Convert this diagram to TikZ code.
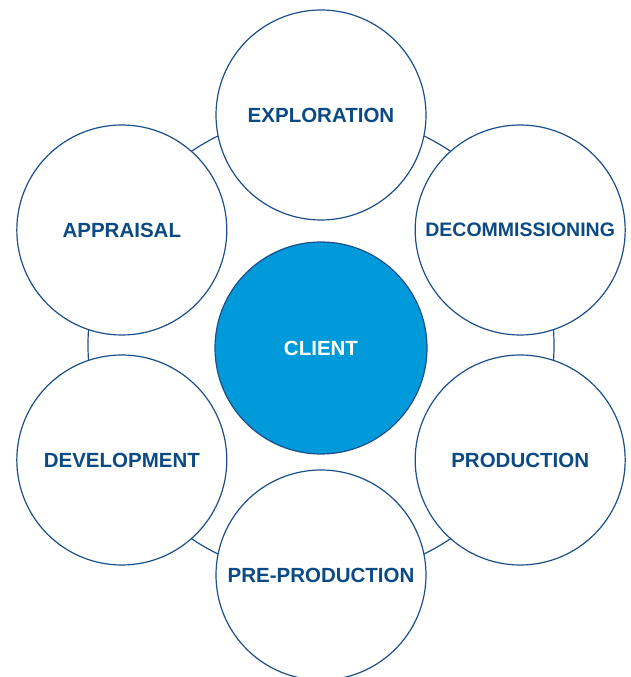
\documentclass[tikz,border=0pt]{standalone}
\usepackage{fontspec}
\setmainfont{Liberation Sans}
\usetikzlibrary{calc}
\definecolor{linecol}{HTML}{1B4F8A}
\definecolor{textcol}{HTML}{0C4A85}
\definecolor{clientfill}{HTML}{0099D9}
\begin{document}
\begin{tikzpicture}[x=1pt,y=1pt,
  ringstyle/.style={circle,draw=linecol,line width=1.2pt,minimum size=466pt,inner sep=0pt},
  stage/.style={circle,draw=linecol,fill=white,line width=1.2pt,minimum size=210pt,inner sep=0pt,
    text=textcol,font=\fontsize{20.5}{24}\selectfont\bfseries},
  clientstyle/.style={circle,draw=linecol,fill=clientfill,line width=1.2pt,minimum size=212pt,inner sep=0pt,
    text=white,font=\fontsize{20.5}{24}\selectfont\bfseries}]
\useasboundingbox (0,0) rectangle (630,677);
\clip (0,0) rectangle (630,677);
\coordinate (c) at (321,332);
\node[ringstyle] (ring) at (c) {};
\node[stage] (expl) at ($(c)+(90:230)$) {EXPLORATION};
\node[stage,font=\fontsize{19.5}{24}\selectfont\bfseries] (decom) at ($(c)+(30:230)$) {DECOMMISSIONING};
\node[stage] (prod) at ($(c)+(-30:230)$) {PRODUCTION};
\node[stage] (prepro) at ($(c)+(-90:230)$) {PRE-PRODUCTION};
\node[stage] (devel) at ($(c)+(-150:230)$) {DEVELOPMENT};
\node[stage] (appr) at ($(c)+(150:230)$) {APPRAISAL};
\node[clientstyle] (client) at (321,329) {CLIENT};
\end{tikzpicture}
\end{document}
